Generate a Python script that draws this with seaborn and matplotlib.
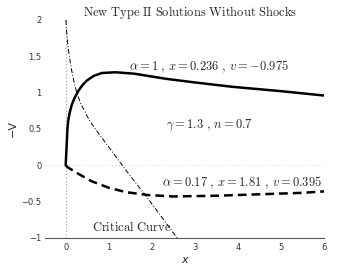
import matplotlib
matplotlib.use("Agg")
import matplotlib.pyplot as plt
import seaborn as sns
import pandas as pd

# Solid curve (alpha = 1)
x_solid = [0.0, 0.02, 0.04, 0.06, 0.09, 0.14, 0.2, 0.3, 0.4, 0.5, 0.65, 0.84, 1.16, 1.6, 2.33, 3.0, 3.87, 5.0, 6.0]
v_solid = [0.0, 0.25, 0.5, 0.62, 0.72, 0.83, 0.92, 1.03, 1.11, 1.17, 1.23, 1.27, 1.28, 1.26, 1.19, 1.14, 1.08, 1.02, 0.96]

# Dashed curve (alpha = 0.17)
x_dash = [0.0, 0.05, 0.3, 0.6, 1.0, 1.4, 1.9, 2.5, 3.5, 4.5, 5.5, 6.0]
v_dash = [0.0, -0.03, -0.12, -0.22, -0.31, -0.37, -0.41, -0.43, -0.42, -0.40, -0.38, -0.36]

# Critical curve (dash-dot)
x_crit = [0.005, 0.02, 0.05, 0.09, 0.14, 0.2, 0.26, 0.35, 0.45, 0.55, 0.65, 0.8, 1.0, 1.4, 1.86, 2.2, 2.6]
v_crit = [2.0, 1.85, 1.65, 1.48, 1.3, 1.13, 0.99, 0.85, 0.73, 0.62, 0.53, 0.41, 0.25, -0.07, -0.42, -0.69, -1.01]

x_ticks = [0, 1, 2, 3, 4, 5, 6]
y_ticks = [-1, -0.5, 0, 0.5, 1, 1.5, 2]
y_ticklabels = ["\u22121", "\u22120.5", "0", "0.5", "1", "1.5", "2"]

title = r"$\mathrm{New\ Type\ II\ Solutions\ Without\ Shocks}$"
label_a1 = r"$\alpha = 1\ ,\, x = 0.236\ ,\, v = -0.975$"
label_gn = r"$\gamma = 1.3\ ,\, n = 0.7$"
label_a2 = r"$\alpha = 0.17\ ,\, x = 1.81\ ,\, v = 0.395$"
label_crit = r"$\mathrm{Critical\ Curve}$"

sns.set_style("white")
plt.rcParams["mathtext.fontset"] = "cm"
plt.rcParams["font.family"] = ["DejaVu Sans"]

fig = plt.figure(figsize=(3.58, 2.70), dpi=100)
ax = fig.add_axes([0.127, 0.119, 0.778, 0.807])

df_s = pd.DataFrame({"x": x_solid, "v": v_solid})
df_d = pd.DataFrame({"x": x_dash, "v": v_dash})
df_c = pd.DataFrame({"x": x_crit, "v": v_crit})

# reference lines
ax.axvline(0, color="#999999", lw=0.8, ls=(0, (1, 2)), zorder=1)
ax.axhline(0, color="#dddddd", lw=0.8, ls=(0, (1, 2)), zorder=1)

sns.lineplot(data=df_c, x="x", y="v", sort=False, estimator=None, ax=ax,
             color="black", lw=0.7, linestyle=(0, (5, 2, 1, 2)))
sns.lineplot(data=df_s, x="x", y="v", sort=False, estimator=None, ax=ax,
             color="black", lw=1.8)
sns.lineplot(data=df_d, x="x", y="v", sort=False, estimator=None, ax=ax,
             color="black", lw=1.8, linestyle=(0, (3.5, 2)))

ax.set_xlim(-0.47, 6)
ax.set_ylim(-1, 2)
ax.set_xticks(x_ticks)
ax.set_xticklabels([str(t) for t in x_ticks])
ax.set_yticks(y_ticks)
ax.set_yticklabels(y_ticklabels)

for s in ["top", "right", "left"]:
    ax.spines[s].set_visible(False)
ax.spines["bottom"].set_color("#555555")
ax.spines["bottom"].set_linewidth(0.8)
ax.tick_params(axis="both", labelsize=6, colors="#333333", length=2, width=0.5)
ax.tick_params(axis="y", pad=1)
ax.tick_params(axis="x", direction="in", pad=4)

ax.set_xlabel("x", fontsize=8, style="italic", labelpad=2)
ax.set_ylabel("\u2212V", fontsize=8)
ax.yaxis.set_label_coords(-0.10, 0.5)

ax.text(1.47, 1.35, label_a1, fontsize=9, va="center", ha="left")
ax.text(2.34, 0.55, label_gn, fontsize=9, va="center", ha="left")
ax.text(2.24, -0.24, label_a2, fontsize=9, va="center", ha="left")
ax.text(0.61, -0.85, label_crit, fontsize=9, va="center", ha="left")
fig.text(0.53, 0.952, title, fontsize=9, ha="center", va="center")

fig.savefig("out.png", dpi=100)
